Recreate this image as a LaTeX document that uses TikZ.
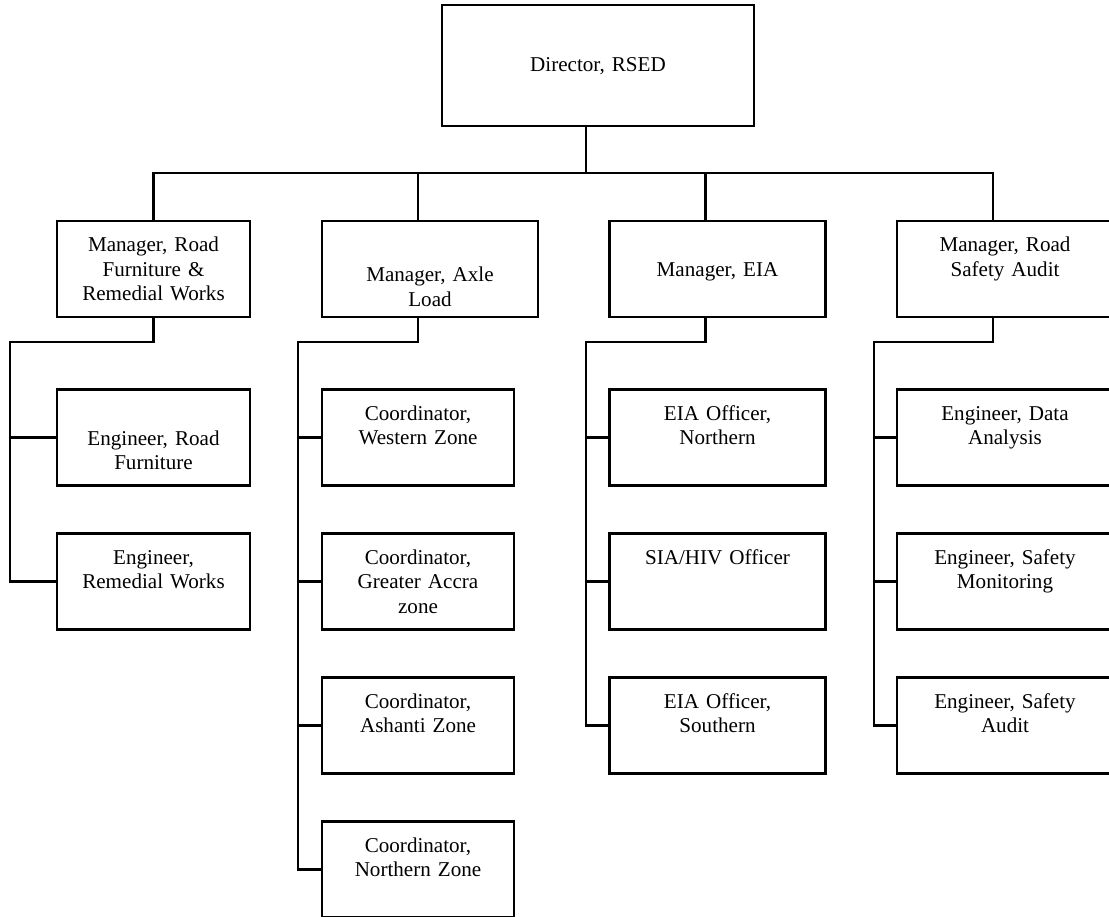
\documentclass[tikz,border=0pt]{standalone}
\usepackage{fontspec}
\setmainfont{Liberation Serif}
\tikzset{
    block/.style = {
        draw,
        shape=rectangle,
        inner sep=0pt,
        align=center,
        font=\fontsize{12}{13.9}\selectfont,
        text height=0.62cm,
        text depth=1.30cm
    },
    narrow/.style = {
        block,
        text width=3.85cm
    },
    wide/.style = {
        block,
        text width=4.32cm
    },
}

\begin{document}
\begin{tikzpicture}[line width=1.25pt]
                \useasboundingbox (0,0) rectangle (22.18,18.32);

                \node[block, text width=6.24cm, text height=1.34cm, text depth=1.08cm] (dir) at (11.96,17.01) {Director, RSED};

                \node[narrow] (mroad) at (3.07,12.94) {Manager, Road\\Furniture \&\\Remedial Works};
                \node[wide, text height=1.22cm, text depth=0.70cm] (maxle) at (8.60,12.94) {Manager, Axle\\Load};
                \node[wide, text height=1.12cm, text depth=0.80cm] (meia) at (14.35,12.94) {Manager, EIA};
                \node[wide] (maudit) at (20.10,12.94) {Manager, Road\\Safety Audit};

                \node[narrow, text height=1.11cm, text depth=0.81cm] (furn) at (3.07,9.57) {Engineer, Road\\Furniture};
                \node[narrow] (remed) at (3.07,6.69) {Engineer,\\Remedial Works};

                \node[narrow, text width=3.84cm] (cwest) at (8.36,9.57) {Coordinator,\\Western Zone};
                \node[narrow, text width=3.84cm] (caccra) at (8.36,6.69) {Coordinator,\\Greater Accra\\zone};
                \node[narrow, text width=3.84cm] (cashanti) at (8.36,3.81) {Coordinator,\\Ashanti Zone};
                \node[narrow, text width=3.84cm] (cnorth) at (8.36,0.93) {Coordinator,\\Northern Zone};

                \node[wide] (eianorth) at (14.35,9.57) {EIA Officer,\\Northern};
                \node[wide] (siahiv) at (14.35,6.69) {SIA/HIV Officer};
                \node[wide] (eiasouth) at (14.35,3.81) {EIA Officer,\\Southern};

                \node[wide] (data) at (20.10,9.57) {Engineer, Data\\Analysis};
                \node[wide] (monitor) at (20.10,6.69) {Engineer, Safety\\Monitoring};
                \node[wide] (audit) at (20.10,3.81) {Engineer, Safety\\Audit};

                \coordinate (top) at (11.72,14.86);
                \coordinate (s1) at (0.20,11.48);
                \coordinate (s2) at (5.96,11.48);
                \coordinate (s3) at (11.72,11.48);
                \coordinate (s4) at (17.48,11.48);

                \path[draw] ([xshift=-0.24cm]dir.south) -- (top);
                \path[draw] (mroad.north) |- (top);
                \path[draw] ([xshift=-0.24cm]maxle.north) |- (top);
                \path[draw] ([xshift=-0.24cm]meia.north) |- (top);
                \path[draw] ([xshift=-0.24cm]maudit.north) |- (top);

                \path[draw] (mroad.south) |- (s1) |- (remed.west);
                \path[draw] (s1) |- (furn.west);

                \path[draw] ([xshift=-0.24cm]maxle.south) |- (s2) |- (cnorth.west);
                \path[draw] (s2) |- (cwest.west);
                \path[draw] (s2) |- (caccra.west);
                \path[draw] (s2) |- (cashanti.west);

                \path[draw] ([xshift=-0.24cm]meia.south) |- (s3) |- (eiasouth.west);
                \path[draw] (s3) |- (eianorth.west);
                \path[draw] (s3) |- (siahiv.west);

                \path[draw] ([xshift=-0.24cm]maudit.south) |- (s4) |- (audit.west);
                \path[draw] (s4) |- (data.west);
                \path[draw] (s4) |- (monitor.west);
            \end{tikzpicture}
\end{document}
